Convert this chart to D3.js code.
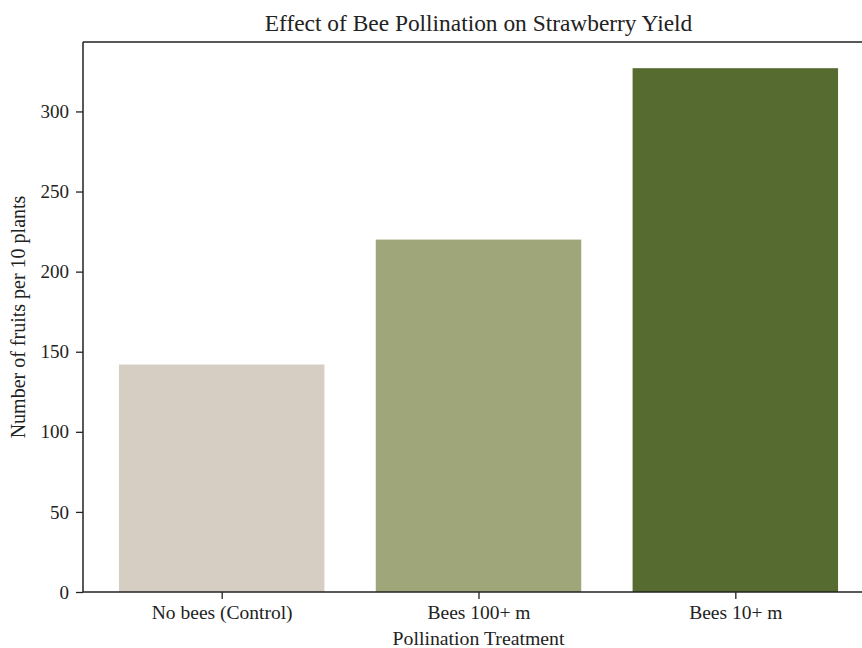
<!DOCTYPE html>
<html>
<head>
<meta charset="utf-8">
<script src="https://cdn.jsdelivr.net/npm/d3@7"></script>
<style>
  body { margin: 0; background: #fff; }
  svg { display: block; }
  text { font-family: "Liberation Serif", "DejaVu Serif", serif; fill: #222; }
</style>
</head>
<body>
<svg id="chart" width="862" height="648"></svg>
<script>
const categories = ["No bees (Control)", "Bees 100+ m", "Bees 10+ m"];
const values = [142, 220, 327];
const barColors = ["#d6cec3", "#9fa77a", "#556b2f"];
const yTicks = [0, 50, 100, 150, 200, 250, 300];
const title = "Effect of Bee Pollination on Strawberry Yield";
const xLabel = "Pollination Treatment";
const yLabel = "Number of fruits per 10 plants";

(function () {
const svg = d3.select("#chart");
const mLeft = 83, mRight = 874, mTop = 42, mBottom = 592;

// matplotlib-like continuous x: bars at 0,1,2 width 0.8, margins 5%
const x = d3.scaleLinear().domain([-0.54, 2.54]).range([mLeft, mRight]);
const y = d3.scaleLinear().domain([0, 343.35]).range([mBottom, mTop]);
const bw = 0.8;

svg.selectAll("rect.bar").data(values).enter().append("rect")
  .attr("class", "bar")
  .attr("x", (d, i) => x(i - bw / 2))
  .attr("width", (d, i) => x(i + bw / 2) - x(i - bw / 2))
  .attr("y", d => y(d))
  .attr("height", d => y(0) - y(d))
  .attr("fill", (d, i) => barColors[i]);

// y axis
const yAxis = d3.axisLeft(y).tickValues(yTicks).tickSize(7).tickPadding(7);
const gy = svg.append("g").attr("transform", `translate(${mLeft},0)`).call(yAxis);
gy.select(".domain").remove();
gy.selectAll("line").attr("stroke", "#222").attr("stroke-width", 1.3);
gy.selectAll("text").attr("font-size", 19).style("font-family", '"Liberation Serif", serif').attr("fill", "#222");

// x axis
const xAxis = d3.axisBottom(x).tickValues([0, 1, 2]).tickFormat((d, i) => categories[i]).tickSize(7).tickPadding(6);
const gx = svg.append("g").attr("transform", `translate(0,${mBottom})`).call(xAxis);
gx.select(".domain").remove();
gx.selectAll("line").attr("stroke", "#222").attr("stroke-width", 1.3);
gx.selectAll("text").attr("font-size", 19.5).style("font-family", '"Liberation Serif", serif').attr("fill", "#222");

// spines
const sp = svg.append("g").attr("stroke", "#222").attr("stroke-width", 1.5).attr("fill", "none");
sp.append("line").attr("x1", mLeft).attr("x2", mLeft).attr("y1", mTop).attr("y2", mBottom);
sp.append("line").attr("x1", mLeft).attr("x2", mRight).attr("y1", mBottom).attr("y2", mBottom);
sp.append("line").attr("x1", mLeft).attr("x2", mRight).attr("y1", mTop).attr("y2", mTop);
sp.append("line").attr("x1", mRight).attr("x2", mRight).attr("y1", mTop).attr("y2", mBottom);

// title
svg.append("text").attr("x", (mLeft + mRight) / 2).attr("y", 31)
  .attr("text-anchor", "middle").attr("font-size", 23.4).text(title);

// x label
svg.append("text").attr("x", (mLeft + mRight) / 2).attr("y", 645)
  .attr("text-anchor", "middle").attr("font-size", 19.8).text(xLabel);

// y label
svg.append("text").attr("transform", `translate(25,${(mTop + mBottom) / 2}) rotate(-90)`)
  .attr("text-anchor", "middle").attr("font-size", 20).text(yLabel);
})();
</script>
</body>
</html>
